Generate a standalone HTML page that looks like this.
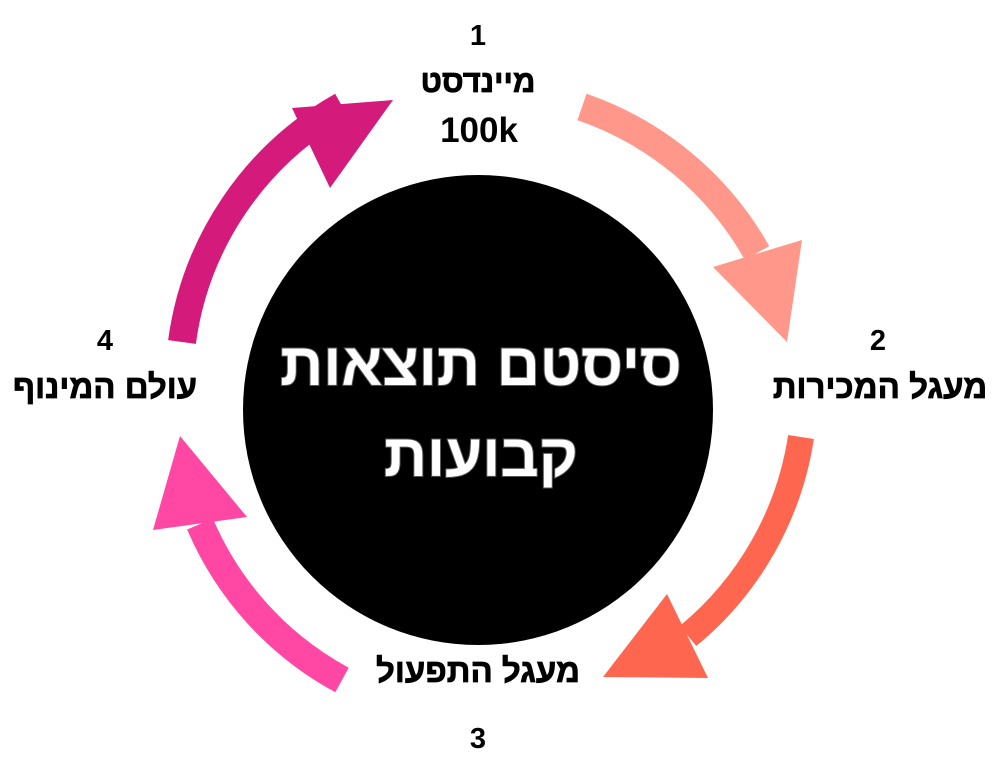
<!DOCTYPE html>
<html><head><meta charset="utf-8"><style>
html,body{margin:0;padding:0;background:#fff;}
svg{display:block;}
text{font-family:"Liberation Sans","DejaVu Sans",sans-serif;font-weight:bold;}
</style></head><body>
<svg width="1000" height="760" viewBox="0 0 1000 760" xmlns="http://www.w3.org/2000/svg">
<circle cx="478" cy="410" r="235" fill="#000"/>
<path d="M582 107 A320 320 0 0 1 757 253" fill="none" stroke="#FF988A" stroke-width="28"/>
<polygon points="713,267 802,240 787,342" fill="#FF988A"/>
<path d="M801 437 A320 320 0 0 1 688 636" fill="none" stroke="#FF6650" stroke-width="26"/>
<polygon points="667,594 708,678 603,677" fill="#FF6650"/>
<path d="M342 680 A320 320 0 0 1 200 524" fill="none" stroke="#FF47A3" stroke-width="28"/>
<polygon points="153,530 247,517 180,436" fill="#FF47A3"/>
<path d="M182 342 A320 320 0 0 1 342 106" fill="none" stroke="#D41B7C" stroke-width="28"/>
<polygon points="292,108 393,100 330,188" fill="#D41B7C"/>

<text x="478" y="45" font-size="29" text-anchor="middle">1</text>
<text x="478" y="92" font-size="31" text-anchor="middle" direction="rtl" stroke="#000" stroke-width="0.8">מיינדסט</text>
<text x="479" y="142" font-size="35" text-anchor="middle" font-family="Liberation Serif">100k</text>
<text x="878" y="350" font-size="29" text-anchor="middle">2</text>
<text x="880" y="398" font-size="33" text-anchor="middle" direction="rtl" stroke="#000" stroke-width="0.8">מעגל המכירות</text>
<text x="478" y="682" font-size="33" text-anchor="middle" direction="rtl" stroke="#000" stroke-width="0.8">מעגל התפעול</text>
<text x="478" y="748" font-size="29" text-anchor="middle">3</text>
<text x="105" y="350" font-size="29" text-anchor="middle">4</text>
<text x="105" y="398" font-size="33" text-anchor="middle" direction="rtl" stroke="#000" stroke-width="0.8">עולם המינוף</text>

<text x="481" y="385" font-size="60" text-anchor="middle" fill="#fff" stroke="#555" stroke-width="2" paint-order="stroke" direction="rtl">סיסטם תוצאות</text>
<text x="481" y="476" font-size="60" text-anchor="middle" fill="#fff" stroke="#555" stroke-width="2" paint-order="stroke" direction="rtl">קבועות</text>
</svg>
</body></html>
